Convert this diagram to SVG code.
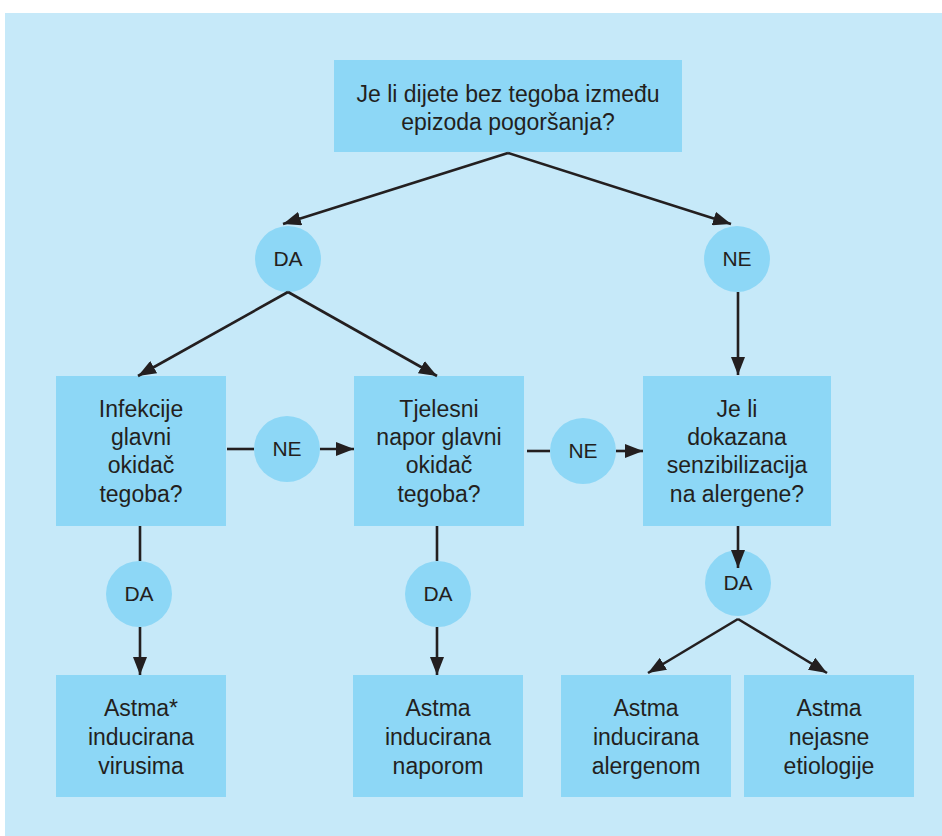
<svg xmlns="http://www.w3.org/2000/svg" width="942" height="836" viewBox="0 0 942 836">
  <style>
    .box { fill: #8dd7f6; }
    .circ { fill: #8dd7f6; }
    .t { font-family: "Liberation Sans", Arial, sans-serif; font-size: 23px; fill: #231f20; text-anchor: middle; }
    .c { font-family: "Liberation Sans", Arial, sans-serif; font-size: 21px; fill: #231f20; text-anchor: middle; }
    .ln { stroke: #231f20; stroke-width: 2.6; fill: none; }
  </style>
  <defs>
    <marker id="ah" markerUnits="userSpaceOnUse" markerWidth="18" markerHeight="14" refX="18" refY="7" orient="auto">
      <path d="M0,0 L18,7 L0,14 z" fill="#231f20"/>
    </marker>
  </defs>
  <rect x="0" y="0" width="942" height="836" fill="#ffffff"/>
  <rect x="5" y="13" width="937" height="823" fill="#c6e9f9"/>

  <g id="q1">
    <rect class="box" x="334" y="60" width="348" height="92"/>
    <text class="t" x="508" y="102">Je li dijete bez tegoba između</text>
    <text class="t" x="508" y="130">epizoda pogoršanja?</text>
  </g>
  <g id="da1">
    <circle class="circ" cx="288" cy="259" r="33"/>
    <text class="c" x="288" y="266">DA</text>
  </g>
  <g id="ne1">
    <circle class="circ" cx="737" cy="259" r="33"/>
    <text class="c" x="737" y="266">NE</text>
  </g>
  <g id="q2">
    <rect class="box" x="56" y="376" width="170" height="150"/>
    <text class="t" x="141" y="417">Infekcije</text>
    <text class="t" x="141" y="445">glavni</text>
    <text class="t" x="141" y="473">okidač</text>
    <text class="t" x="141" y="502">tegoba?</text>
  </g>
  <g id="ne2">
    <circle class="circ" cx="287" cy="449" r="33"/>
    <text class="c" x="287" y="456">NE</text>
  </g>
  <g id="q3">
    <rect class="box" x="354" y="376" width="170" height="150"/>
    <text class="t" x="439" y="417">Tjelesni</text>
    <text class="t" x="439" y="445">napor glavni</text>
    <text class="t" x="439" y="473">okidač</text>
    <text class="t" x="439" y="502">tegoba?</text>
  </g>
  <g id="ne3">
    <circle class="circ" cx="583" cy="451" r="33"/>
    <text class="c" x="583" y="458">NE</text>
  </g>
  <g id="q4">
    <rect class="box" x="643" y="376" width="188" height="150"/>
    <text class="t" x="737" y="417">Je li</text>
    <text class="t" x="737" y="445">dokazana</text>
    <text class="t" x="737" y="473">senzibilizacija</text>
    <text class="t" x="737" y="502">na alergene?</text>
  </g>
  <g id="da2">
    <circle class="circ" cx="139" cy="594" r="33"/>
    <text class="c" x="139" y="601">DA</text>
  </g>
  <g id="da3">
    <circle class="circ" cx="438" cy="594" r="33"/>
    <text class="c" x="438" y="601">DA</text>
  </g>
  <g id="da4">
    <circle class="circ" cx="738" cy="583" r="33"/>
    <text class="c" x="738" y="590">DA</text>
  </g>
  <g id="r1">
    <rect class="box" x="56" y="675" width="170" height="122"/>
    <text class="t" x="141" y="716">Astma*</text>
    <text class="t" x="141" y="745">inducirana</text>
    <text class="t" x="141" y="774">virusima</text>
  </g>
  <g id="r2">
    <rect class="box" x="353" y="675" width="170" height="122"/>
    <text class="t" x="438" y="716">Astma</text>
    <text class="t" x="438" y="745">inducirana</text>
    <text class="t" x="438" y="774">naporom</text>
  </g>
  <g id="r3">
    <rect class="box" x="561" y="675" width="170" height="122"/>
    <text class="t" x="646" y="716">Astma</text>
    <text class="t" x="646" y="745">inducirana</text>
    <text class="t" x="646" y="774">alergenom</text>
  </g>
  <g id="r4">
    <rect class="box" x="744" y="675" width="170" height="122"/>
    <text class="t" x="829" y="716">Astma</text>
    <text class="t" x="829" y="745">nejasne</text>
    <text class="t" x="829" y="774">etiologije</text>
  </g>

  <g id="connectors">
    <line class="ln" x1="508" y1="153" x2="283" y2="224" marker-end="url(#ah)"/>
    <line class="ln" x1="508" y1="153" x2="731" y2="224" marker-end="url(#ah)"/>
    <line class="ln" x1="288" y1="292" x2="138" y2="376" marker-end="url(#ah)"/>
    <line class="ln" x1="288" y1="292" x2="437" y2="376" marker-end="url(#ah)"/>
    <line class="ln" x1="738" y1="292" x2="738" y2="375" marker-end="url(#ah)"/>
    <line class="ln" x1="227" y1="449" x2="254" y2="449"/>
    <line class="ln" x1="320" y1="449" x2="354" y2="449" marker-end="url(#ah)"/>
    <line class="ln" x1="527" y1="451" x2="550" y2="451"/>
    <line class="ln" x1="616" y1="451" x2="643" y2="451" marker-end="url(#ah)"/>
    <line class="ln" x1="140" y1="526" x2="140" y2="561"/>
    <line class="ln" x1="140" y1="627" x2="140" y2="675" marker-end="url(#ah)"/>
    <line class="ln" x1="437" y1="526" x2="437" y2="561"/>
    <line class="ln" x1="437" y1="627" x2="437" y2="675" marker-end="url(#ah)"/>
    <line class="ln" x1="738" y1="526" x2="738" y2="568" marker-end="url(#ah)"/>
    <line class="ln" x1="738" y1="619" x2="648" y2="673" marker-end="url(#ah)"/>
    <line class="ln" x1="738" y1="619" x2="827" y2="673" marker-end="url(#ah)"/>
  </g>
</svg>
